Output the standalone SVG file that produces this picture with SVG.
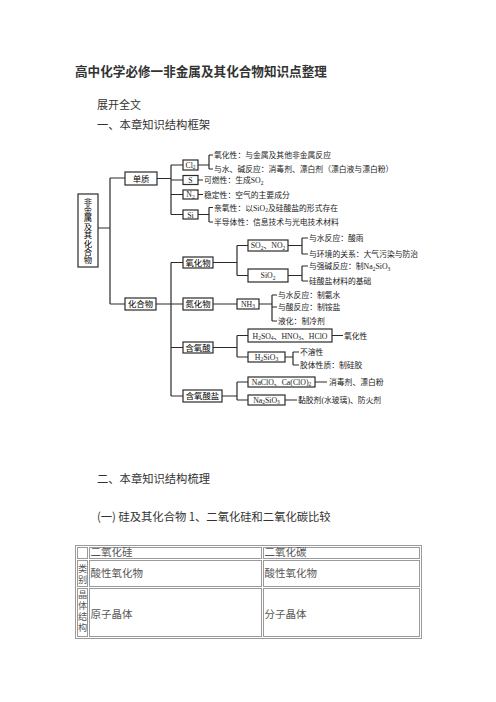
<svg xmlns="http://www.w3.org/2000/svg" width="496" height="702" viewBox="0 0 496 702">
<style>
.ln{stroke:#2a2a2a;stroke-width:1.2;fill:none}
.bx{fill:#fff;stroke:#2a2a2a;stroke-width:1.2}
.t{font-family:"Liberation Serif","Noto Sans CJK SC",serif;font-size:7.8px;fill:#222}
.b{font-family:"Liberation Serif","Noto Sans CJK SC",serif;font-size:8.4px;fill:#000;font-weight:normal}
.c{text-anchor:middle}
.h{font-family:"Noto Sans CJK SC",sans-serif;fill:#333}
.tb{fill:none;stroke:#9a9a9a;stroke-width:1}
.tt{font-family:"Liberation Serif","Noto Sans CJK SC",serif;font-size:10.5px;fill:#555}
.tc{font-family:"Liberation Serif","Noto Sans CJK SC",serif;font-size:9.2px;fill:#555;text-anchor:middle}
</style>
<rect width="496" height="702" fill="#fff"/>
<text class="h" x="75" y="76" font-size="12.6" font-weight="bold" fill="#222">高中化学必修一非金属及其化合物知识点整理</text>
<text class="h" x="97" y="109" font-size="11">展开全文</text>
<text class="h" x="97" y="129" font-size="11.3">一、本章知识结构框架</text>

<g id="connectors">
<path class="ln" d="M98 228H110M110 178V304M110 178H125M110 304H125"/>
<path class="ln" d="M157 178.5H171M171 165V214.5M171 165H183M171 180H183M171 194.5H183M171 214.5H183"/>
<path class="ln" d="M198 165H209M209 155V169M209 155H213M209 169H213"/>
<path class="ln" d="M198 180H203M198 194.5H203"/>
<path class="ln" d="M198 214.5H209M209 207.5V222M209 207.5H213M209 222H213"/>
<path class="ln" d="M156 304H171M171 262.5V396M171 262.5H183M171 304H183M171 347.5H183M171 396H183"/>
<path class="ln" d="M213 262.5H237M237 245.5V275.5M237 245.5H248M237 275.5H248"/>
<path class="ln" d="M288 245.5H302M302 238V254M302 238H308M302 254H308"/>
<path class="ln" d="M288 275.5H302M302 266V281M302 266H308M302 281H308"/>
<path class="ln" d="M213 304H237M259 304H272M272 295V321M272 295H277M272 307H277M272 321H277"/>
<path class="ln" d="M213 347.5H237M237 335.5V357M237 335.5H248M237 357H248M332 335.5H343"/>
<path class="ln" d="M285 357H293M293 352V365M293 352H299M293 365H299"/>
<path class="ln" d="M222 396H237M237 382V400M237 382H248M237 400H248M315 382H327M285 400H297"/>
</g>

<g id="root">
<rect class="bx" x="78" y="194" width="20" height="73"/>
<text class="b c" x="88" font-size="8">
<tspan x="88" y="204.5">非</tspan><tspan x="88" y="212.9">金</tspan><tspan x="88" y="221.3">属</tspan><tspan x="88" y="229.7">及</tspan><tspan x="88" y="238.1">其</tspan><tspan x="88" y="246.5">化</tspan><tspan x="88" y="254.9">合</tspan><tspan x="88" y="263.3">物</tspan>
</text>
</g>

<g id="danzhi"><rect class="bx" x="125" y="172" width="32" height="13"/><text class="b c" x="141" y="181.5">单质</text></g>
<g id="cl2"><rect class="bx" x="183" y="160" width="15" height="10"/><text class="t c" x="190.5" y="167.5">Cl<tspan dy="1.5" font-size="5.5">2</tspan></text></g>
<g id="s"><rect class="bx" x="183" y="175.5" width="15" height="9"/><text class="t c" x="190.5" y="183">S</text></g>
<g id="n2"><rect class="bx" x="183" y="190" width="15" height="9"/><text class="t c" x="190.5" y="197">N<tspan dy="1.5" font-size="5.5">2</tspan></text></g>
<g id="si"><rect class="bx" x="183" y="210" width="15" height="9"/><text class="t c" x="190.5" y="217.5">Si</text></g>
<g id="cl2-t"><text class="t" x="214" y="158">氧化性：与金属及其他非金属反应</text><text class="t" x="214" y="172">与水、碱反应：消毒剂、漂白剂（漂白液与漂白粉）</text></g>
<g id="s-t"><text class="t" x="204" y="183">可燃性：生成SO<tspan dy="1.5" font-size="5.5">2</tspan></text></g>
<g id="n2-t"><text class="t" x="204" y="197.5">稳定性：空气的主要成分</text></g>
<g id="si-t"><text class="t" x="214" y="210.5">亲氧性：以SiO<tspan dy="1.5" font-size="5.5">2</tspan><tspan dy="-1.5">及硅酸盐的形式存在</tspan></text><text class="t" x="214" y="225">半导体性：信息技术与光电技术材料</text></g>

<g id="huahewu"><rect class="bx" x="125" y="298" width="31" height="12"/><text class="b c" x="140.5" y="307">化合物</text></g>
<g id="yanghuawu"><rect class="bx" x="183" y="257" width="30" height="11"/><text class="b c" x="198" y="265.5">氧化物</text></g>
<g id="danhuawu"><rect class="bx" x="183" y="298" width="30" height="12"/><text class="b c" x="198" y="307">氮化物</text></g>
<g id="hanyangsuan"><rect class="bx" x="183" y="342" width="30" height="11"/><text class="b c" x="198" y="350.5">含氧酸</text></g>
<g id="hanyangsuanyan"><rect class="bx" x="183" y="390" width="39" height="12"/><text class="b c" x="202.5" y="399">含氧酸盐</text></g>

<g id="so2"><rect class="bx" x="248" y="240" width="40" height="11"/><text class="t c" x="268" y="248">SO<tspan dy="1.5" font-size="5.5">2</tspan><tspan dy="-1.5">、NO</tspan><tspan dy="1.5" font-size="5.5">2</tspan></text></g>
<g id="sio2"><rect class="bx" x="248" y="269" width="40" height="13"/><text class="t c" x="268" y="278">SiO<tspan dy="1.5" font-size="5.5">2</tspan></text></g>
<g id="so2-t"><text class="t" x="309" y="241">与水反应：酸雨</text><text class="t" x="309" y="257">与环境的关系：大气污染与防治</text></g>
<g id="sio2-t"><text class="t" x="309" y="269">与强碱反应：制Na<tspan dy="1.5" font-size="5.5">2</tspan><tspan dy="-1.5">SiO</tspan><tspan dy="1.5" font-size="5.5">3</tspan></text><text class="t" x="309" y="284">硅酸盐材料的基础</text></g>

<g id="nh3"><rect class="bx" x="237" y="299" width="22" height="10"/><text class="t c" x="248" y="306.5">NH<tspan dy="1.5" font-size="5.5">3</tspan></text></g>
<g id="nh3-t"><text class="t" x="278" y="298">与水反应：制氨水</text><text class="t" x="278" y="310">与酸反应：制铵盐</text><text class="t" x="278" y="324">液化：制冷剂</text></g>

<g id="h2so4"><rect class="bx" x="248" y="329" width="84" height="13"/><text class="t c" x="290" y="338.5">H<tspan dy="1.5" font-size="5.5">2</tspan><tspan dy="-1.5">SO</tspan><tspan dy="1.5" font-size="5.5">4</tspan><tspan dy="-1.5">、HNO</tspan><tspan dy="1.5" font-size="5.5">3</tspan><tspan dy="-1.5">、HClO</tspan></text></g>
<g id="h2so4-t"><text class="t" x="344" y="338.5" font-size="8.5">氧化性</text></g>
<g id="h2sio3"><rect class="bx" x="248" y="352" width="37" height="10"/><text class="t c" x="266.5" y="359.5">H<tspan dy="1.5" font-size="5.5">2</tspan><tspan dy="-1.5">SiO</tspan><tspan dy="1.5" font-size="5.5">3</tspan></text></g>
<g id="h2sio3-t"><text class="t" x="300" y="355">不溶性</text><text class="t" x="300" y="368">胶体性质：制硅胶</text></g>

<g id="naclo"><rect class="bx" x="248" y="377" width="67" height="10"/><text class="t c" x="281.5" y="384.5">NaClO、Ca(ClO)<tspan dy="1.5" font-size="5.5">2</tspan></text></g>
<g id="naclo-t"><text class="t" x="329" y="385" font-size="8.5">消毒剂、漂白粉</text></g>
<g id="na2sio3"><rect class="bx" x="248" y="395" width="37" height="10"/><text class="t c" x="266.5" y="402.5">Na<tspan dy="1.5" font-size="5.5">2</tspan><tspan dy="-1.5">SiO</tspan><tspan dy="1.5" font-size="5.5">3</tspan></text></g>
<g id="na2sio3-t"><text class="t" x="298" y="403" font-size="8.3">黏胶剂(水玻璃)、防火剂</text></g>

<text class="h" x="97" y="483" font-size="11.3">二、本章知识结构梳理</text>
<text class="h" x="97" y="521" font-size="11.3">(一) 硅及其化合物 1、二氧化硅和二氧化碳比较</text>

<g id="table">
<rect class="tb" x="75.5" y="545.5" width="346" height="93"/>
<rect class="tb" x="77.5" y="547.5" width="10" height="11"/>
<rect class="tb" x="89.5" y="547.5" width="172" height="11"/>
<rect class="tb" x="263.5" y="547.5" width="156" height="11"/>
<rect class="tb" x="77.5" y="560.5" width="10" height="26"/>
<rect class="tb" x="89.5" y="560.5" width="172" height="26"/>
<rect class="tb" x="263.5" y="560.5" width="156" height="26"/>
<rect class="tb" x="77.5" y="588.5" width="10" height="48"/>
<rect class="tb" x="89.5" y="588.5" width="172" height="48"/>
<rect class="tb" x="263.5" y="588.5" width="156" height="48"/>
<text class="tt" x="90.5" y="556">二氧化硅</text>
<text class="tt" x="264.5" y="556">二氧化碳</text>
<text class="tc" x="82.5" y="572">类</text>
<text class="tc" x="82.5" y="583">别</text>
<text class="tt" x="90.5" y="577">酸性氧化物</text>
<text class="tt" x="264.5" y="577">酸性氧化物</text>
<text class="tc" x="82.5" y="598">晶</text>
<text class="tc" x="82.5" y="609">体</text>
<text class="tc" x="82.5" y="620">结</text>
<text class="tc" x="82.5" y="631">构</text>
<text class="tt" x="90.5" y="618">原子晶体</text>
<text class="tt" x="264.5" y="618">分子晶体</text>
</g>
</svg>
